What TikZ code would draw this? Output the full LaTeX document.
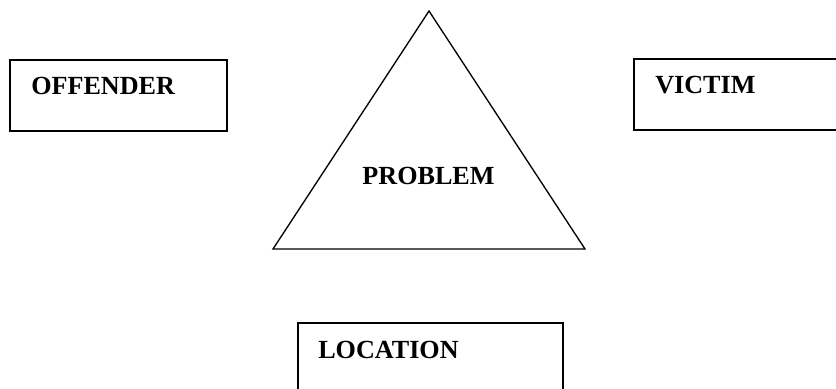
\documentclass[tikz,border=0pt]{standalone}
\usepackage{fontspec}
\setmainfont{Liberation Serif}
\usetikzlibrary{calc,positioning}

\begin{document}
\begin{tikzpicture}[x=0.75pt,y=0.75pt,
     box/.style={draw,line width=1.4pt,anchor=north west,inner sep=0pt,
                 minimum width=162.75pt,minimum height=53.25pt},
     lbl/.style={font=\fontsize{19.6}{23}\selectfont\bfseries,inner sep=0pt}]
    \useasboundingbox (0,0) rectangle (836,389);
    \clip (0,0) rectangle (836,389);
    % the three boxes
    \node[box] (offbox) at (9,330) {};
    \node[box] (vicbox) at (633,331) {};
    \node[box,minimum width=198.75pt,minimum height=60pt] (locbox) at (297,67) {};
    \node[lbl,anchor=base west] (offender) at ($(offbox.north west)+(22,-36)$) {OFFENDER};
    \node[lbl,anchor=base west] (victim) at ($(vicbox.north west)+(22,-36)$) {VICTIM};
    \node[lbl,anchor=base west] (location) at ($(locbox.north west)+(21,-37)$) {LOCATION};
    % problem triangle
    \coordinate (apex) at (429,378);
    \coordinate (bl) at (273,140);
    \coordinate (br) at (585,140);
    \draw[line width=1pt,line join=miter] (apex) -- (bl) -- (br) -- cycle;
    \node[lbl,anchor=base] (problem) at (428.5,204) {PROBLEM};
\end{tikzpicture}
\end{document}
